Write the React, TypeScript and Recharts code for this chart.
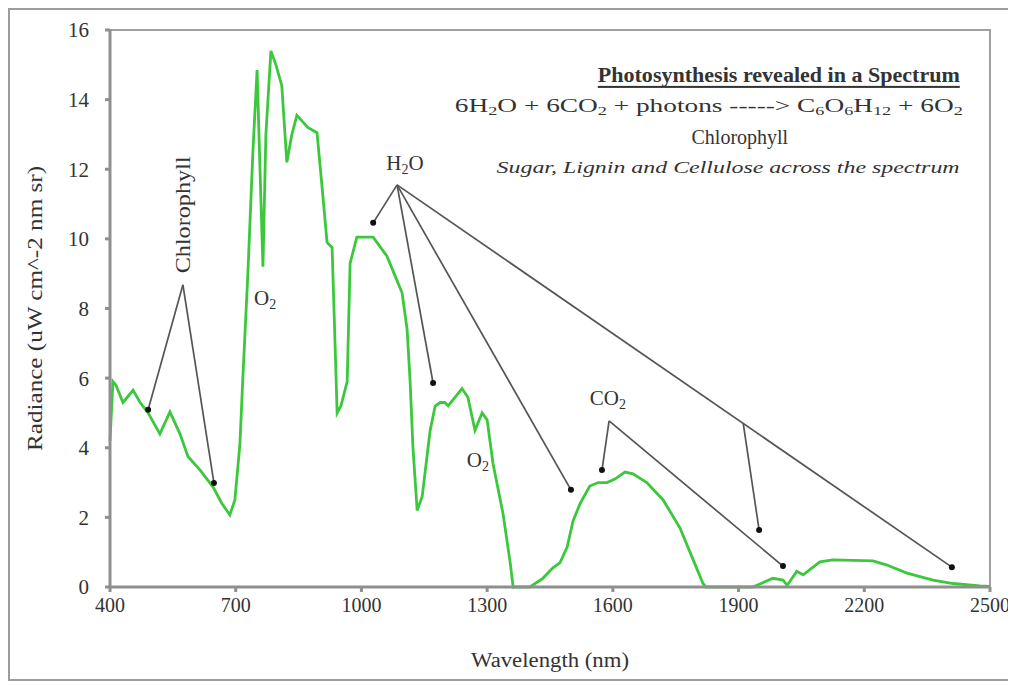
import { LineChart, Line, XAxis, YAxis, ReferenceLine, ReferenceDot, ReferenceArea } from "recharts";

// spectrum
const wavelength = [
  400, 407, 414, 431, 455, 472, 491, 519, 543, 567, 586, 615, 646, 667, 686, 698, 710, 717, 729, 741,
  751, 758, 765, 772, 784, 796, 810, 822, 834, 846, 872, 894, 906, 918, 930, 937, 942, 951, 966, 973,
  989, 1028, 1061, 1085, 1097, 1109, 1116, 1123, 1133, 1145, 1164, 1176, 1188, 1199, 1207, 1240, 1254, 1271, 1288, 1300,
  1314, 1338, 1355, 1362, 1402, 1433, 1457, 1474, 1491, 1505, 1522, 1545, 1565, 1586, 1605, 1629, 1648, 1681, 1720, 1760,
  1791, 1815, 1822, 1934, 1982, 2006, 2016, 2039, 2054, 2094, 2125, 2221, 2254, 2302, 2364, 2412, 2476, 2500,
];
const radiance = [
  4.2, 5.9, 5.8, 5.3, 5.65, 5.3, 5.0, 4.4, 5.03, 4.4, 3.75, 3.36, 2.87, 2.4, 2.07, 2.5, 4.1, 6.0, 9.0, 12.5,
  14.85, 12.0, 9.2, 13.0, 15.4, 15.0, 14.4, 12.2, 13.0, 13.55, 13.2, 13.05, 11.5, 9.9, 9.75, 7.0, 5.0, 5.2, 5.9, 9.3,
  10.05, 10.05, 9.5, 8.8, 8.45, 7.4, 5.95, 4.0, 2.2, 2.6, 4.5, 5.2, 5.3, 5.3, 5.2, 5.7, 5.45, 4.5, 5.0, 4.8,
  3.55, 2.1, 0.7, 0, 0, 0.25, 0.55, 0.7, 1.15, 1.9, 2.4, 2.9, 3.0, 3.0, 3.1, 3.3, 3.25, 3.0, 2.5, 1.7,
  0.8, 0.1, 0, 0, 0.25, 0.2, 0.05, 0.45, 0.35, 0.72, 0.78, 0.75, 0.63, 0.4, 0.2, 0.1, 0.03, 0.02,
];
const xTicks = [400, 700, 1000, 1300, 1600, 1900, 2200, 2500];
const yTicks = [0, 2, 4, 6, 8, 10, 12, 14, 16];

// annotation anchors, in data units
const chlorophyllApex = { x: 574, y: 8.68 };
const chlorophyllTargets = [{ x: 491, y: 5.09 }, { x: 648, y: 2.99 }];
const waterApex = { x: 1085, y: 11.55 };
const waterTargets = [{ x: 1028, y: 10.46 }, { x: 1171, y: 5.86 }, { x: 1500, y: 2.79 }, { x: 2409, y: 0.57 }];
const waterBranch = [{ x: 1911, y: 4.71 }, { x: 1949, y: 1.64 }];
const co2Apex = { x: 1591, y: 4.77 };
const co2Targets = [{ x: 1574, y: 3.36 }, { x: 2006, y: 0.6 }];

const data = wavelength.map((w, i) => ({ w, r: radiance[i] }));

const FONT = "'Liberation Serif', 'Times New Roman', serif";
const INK = "#333";
const LINE_GREY = "#555";

function textShape(render: (cx: number, cy: number) => JSX.Element) {
  return (p: any) => render(p.cx, p.cy);
}

function YLabel(props: any) {
  const { x, y, height } = props.viewBox;
  const cx = x + 25;
  const cy = y + height / 2;
  return (
    <text x={cx} y={cy} transform={`rotate(-90 ${cx} ${cy})`} textAnchor="middle" dominantBaseline="central"
      fontFamily={FONT} fontSize={20} fill={INK} textLength={285} lengthAdjust="spacingAndGlyphs">
      Radiance (uW cm^-2 nm sr)
    </text>
  );
}

function XLabel(props: any) {
  const { x, y, width, height } = props.viewBox;
  const cx = x + width / 2;
  const cy = y + height - 17;
  return (
    <text x={cx} y={cy} textAnchor="middle" dominantBaseline="central"
      fontFamily={FONT} fontSize={20} fill={INK} textLength={158} lengthAdjust="spacingAndGlyphs">
      Wavelength (nm)
    </text>
  );
}

export default function App() {
  const seg = (a: { x: number; y: number }, b: { x: number; y: number }, k: string) => (
    <ReferenceLine key={k} segment={[a, b]} stroke={LINE_GREY} strokeWidth={1.7} />
  );
  const dot = (p: { x: number; y: number }, k: string) => (
    <ReferenceDot key={k} x={p.x} y={p.y} r={3} fill="#111" stroke="none" />
  );
  const sub = (s: string, size: number, d: number) => (
    <tspan fontSize={size} dy={d}>{s}</tspan>
  );

  return (
    <div style={{ position: "relative", width: 1002, height: 673, boxSizing: "border-box", border: "2px solid #9c9c9c", background: "#fff" }}>
      <style>{`.recharts-wrapper svg.recharts-surface { overflow: visible; }`}</style>
      <LineChart width={998} height={669} data={data} margin={{ top: 20, right: 18, bottom: 2, left: 0 }}>
        <ReferenceArea x1={400} x2={2500} y1={0} y2={16} fill="none" stroke="#a0a0a0" strokeWidth={2} />
        <XAxis
          dataKey="w"
          type="number"
          domain={[400, 2500]}
          ticks={xTicks}
          interval={0}
          height={90}
          tickSize={5}
          tickMargin={6}
          stroke="#8f8f8f"
          strokeWidth={3}
          tick={{ fontFamily: FONT, fontSize: 20, fill: INK }}
          label={<XLabel />}
        />
        <YAxis
          type="number"
          domain={[0, 16]}
          ticks={yTicks}
          interval={0}
          width={100}
          tickSize={5}
          tickMargin={16}
          stroke="#8f8f8f"
          strokeWidth={3}
          tick={{ fontFamily: FONT, fontSize: 21, fill: INK }}
          label={<YLabel />}
        />
        <Line dataKey="r" type="linear" stroke="#3cc83c" strokeWidth={2.8} dot={false} isAnimationActive={false} />

        {chlorophyllTargets.map((t, i) => seg(chlorophyllApex, t, "cl" + i))}
        {waterTargets.map((t, i) => seg(waterApex, t, "wl" + i))}
        {seg(waterBranch[0], waterBranch[1], "wb")}
        {co2Targets.map((t, i) => seg(co2Apex, t, "cl2" + i))}
        {chlorophyllTargets.map((t, i) => dot(t, "cd" + i))}
        {waterTargets.map((t, i) => dot(t, "wd" + i))}
        {dot(waterBranch[1], "wbd")}
        {co2Targets.map((t, i) => dot(t, "cd2" + i))}

        <ReferenceDot x={574} y={10.69} r={0} shape={textShape((cx, cy) => (
          <text x={cx} y={cy} transform={`rotate(-90 ${cx} ${cy})`} textAnchor="middle" dominantBaseline="central"
            fontFamily={FONT} fontSize={22} fill={INK} textLength={117} lengthAdjust="spacingAndGlyphs">Chlorophyll</text>
        ))} />
        <ReferenceDot x={770} y={8.3} r={0} shape={textShape((cx, cy) => (
          <text x={cx} y={cy} textAnchor="middle" dominantBaseline="central" fontFamily={FONT} fontSize={21} fill={INK}>
            O{sub("2", 14, 6)}
          </text>
        ))} />
        <ReferenceDot x={1278} y={3.65} r={0} shape={textShape((cx, cy) => (
          <text x={cx} y={cy} textAnchor="middle" dominantBaseline="central" fontFamily={FONT} fontSize={21} fill={INK}>
            O{sub("2", 14, 6)}
          </text>
        ))} />
        <ReferenceDot x={1104} y={12.18} r={0} shape={textShape((cx, cy) => (
          <text x={cx} y={cy} textAnchor="middle" dominantBaseline="central" fontFamily={FONT} fontSize={21} fill={INK}>
            H{sub("2", 14, 6)}<tspan dy={-6}>O</tspan>
          </text>
        ))} />
        <ReferenceDot x={1588} y={5.43} r={0} shape={textShape((cx, cy) => (
          <text x={cx} y={cy} textAnchor="middle" dominantBaseline="central" fontFamily={FONT} fontSize={21} fill={INK}>
            CO{sub("2", 14, 6)}
          </text>
        ))} />

        <ReferenceDot x={1996} y={14.71} r={0} shape={textShape((cx, cy) => (
          <text x={cx} y={cy} textAnchor="middle" dominantBaseline="central" fontFamily={FONT} fontSize={20}
            fontWeight="bold" textDecoration="underline" fill={INK} textLength={362} lengthAdjust="spacingAndGlyphs">
            Photosynthesis revealed in a Spectrum
          </text>
        ))} />
        <ReferenceDot x={1829} y={13.82} r={0} shape={textShape((cx, cy) => (
          <text x={cx} y={cy} textAnchor="middle" dominantBaseline="central" fontFamily={FONT} fontSize={18} fill={INK}
            textLength={508} lengthAdjust="spacingAndGlyphs">
            6H{sub("2", 12, 5)}<tspan dy={-5}>O + 6CO</tspan>{sub("2", 12, 5)}
            <tspan dy={-5}> + photons -----&gt; C</tspan>{sub("6", 12, 5)}<tspan dy={-5}>O</tspan>
            {sub("6", 12, 5)}<tspan dy={-5}>H</tspan>{sub("12", 12, 5)}
            <tspan dy={-5}> + 6O</tspan>{sub("2", 12, 5)}
          </text>
        ))} />
        <ReferenceDot x={1903} y={12.93} r={0} shape={textShape((cx, cy) => (
          <text x={cx} y={cy} textAnchor="middle" dominantBaseline="central" fontFamily={FONT} fontSize={20} fill={INK}>
            Chlorophyll
          </text>
        ))} />
        <ReferenceDot x={1875} y={12.04} r={0} shape={textShape((cx, cy) => (
          <text x={cx} y={cy} textAnchor="middle" dominantBaseline="central" fontFamily={FONT} fontSize={16}
            fontStyle="italic" fill={INK} textLength={463} lengthAdjust="spacingAndGlyphs">
            Sugar, Lignin and Cellulose across the spectrum
          </text>
        ))} />
      </LineChart>
    </div>
  );
}
